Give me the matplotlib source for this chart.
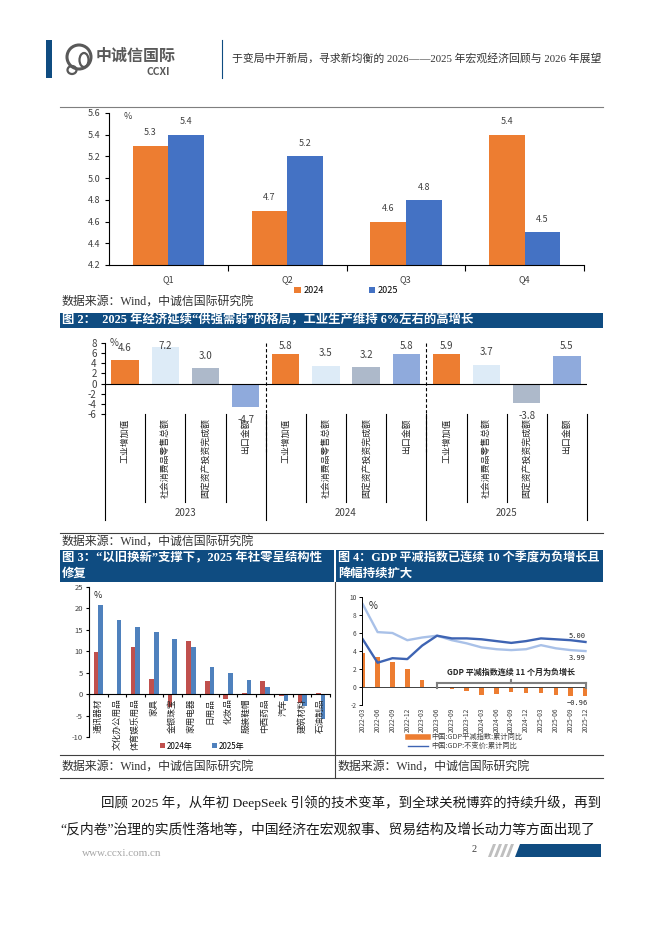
import matplotlib
matplotlib.use('Agg')
import matplotlib.pyplot as plt
from matplotlib.patches import Rectangle, Polygon, Ellipse
from matplotlib.lines import Line2D
import numpy as np

plt.rcParams['font.family'] = ['Noto Sans CJK SC', 'DejaVu Sans']
plt.rcParams['axes.unicode_minus'] = False

SANS = ['Noto Sans CJK SC', 'DejaVu Sans']
SERIF = ['Liberation Serif', 'Noto Sans CJK SC']

# ---------------- data ----------------
# Chart 1: quarterly GDP growth
quarters = ['Q1', 'Q2', 'Q3', 'Q4']
gdp_2024 = [5.3, 4.7, 4.6, 5.4]
gdp_2025 = [5.4, 5.2, 4.8, 4.5]
c1_yticks = [4.2, 4.4, 4.6, 4.8, 5.0, 5.2, 5.4, 5.6]

# Chart 2: supply strong / demand weak
c2_years = ['2023', '2024', '2025']
c2_items = ['工业增加值', '社会消费品零售总额', '固定资产投资完成额', '出口金额']
c2_2023 = [4.6, 7.2, 3.0, -4.7]
c2_2024 = [5.8, 3.5, 3.2, 5.8]
c2_2025 = [5.9, 3.7, -3.8, 5.5]
c2_yticks = [-6, -4, -2, 0, 2, 4, 6, 8]

# Chart 3: retail sales by category
c3_cats = ['通讯器材', '文化办公用品', '体育娱乐用品', '家具', '金银珠宝', '家用电器',
           '日用品', '化妆品', '服装鞋帽', '中西药品', '汽车', '建筑材料', '石油制品']
c3_2024 = [9.9, -0.3, 11.1, 3.6, -3.1, 12.3, 3.0, -1.1, 0.3, 3.1, -0.5, -2.0, 0.2]
c3_2025 = [20.8, 17.2, 15.7, 14.6, 12.8, 11.0, 6.3, 5.0, 3.2, 1.7, -1.5, -2.7, -5.7]
c3_yticks = [-10, -5, 0, 5, 10, 15, 20, 25]

# Chart 4: GDP deflator
c4_quarters = ['2022-03', '2022-06', '2022-09', '2022-12', '2023-03', '2023-06', '2023-09', '2023-12',
               '2024-03', '2024-06', '2024-09', '2024-12', '2025-03', '2025-06', '2025-09', '2025-12']
c4_deflator = [3.75, 3.35, 2.75, 2.0, 0.8, -0.05, -0.2, -0.45, -0.9, -0.75, -0.55, -0.7, -0.65, -0.9, -1.0, -0.96]
c4_real = [5.3, 2.7, 3.2, 3.1, 4.6, 5.7, 5.4, 5.4, 5.3, 5.1, 4.9, 5.1, 5.4, 5.3, 5.2, 5.00]
c4_nominal = [9.2, 6.1, 6.0, 5.2, 5.5, 5.7, 5.2, 4.85, 4.4, 4.2, 4.1, 4.2, 4.65, 4.3, 4.1, 3.99]
c4_yticks = [-2, 0, 2, 4, 6, 8, 10]

# ---------------- colours ----------------
NAVY = '#0F4C81'
ORANGE = '#ED7D31'
BLUE1 = '#4472C4'
C2_COLORS = [ORANGE, '#DDEBF7', '#ADB9CA', '#8FAADC']
RED3 = '#C0504D'
BLUE3 = '#4F81BD'
DARK4 = '#3E64B3'
LIGHT4 = '#A9C1E8'

W, H = 662, 936
fig = plt.figure(figsize=(6.62, 9.36), dpi=100)


def fx(x):
    return x / W


def fy(y):
    return 1 - y / H


def add_ax(l, t, r, b):
    return fig.add_axes([fx(l), fy(b), (r - l) / W, (b - t) / H])


def rect(x0, y0, x1, y1, color):
    fig.patches.append(Rectangle((fx(x0), fy(y1)), (x1 - x0) / W, (y1 - y0) / H,
                                 transform=fig.transFigure, facecolor=color, edgecolor='none'))


def hline(y, x0, x1, color='black', lw=0.8):
    fig.add_artist(Line2D([fx(x0), fx(x1)], [fy(y), fy(y)], color=color, lw=lw))


def vline(x, y0, y1, color='black', lw=0.8):
    fig.add_artist(Line2D([fx(x), fx(x)], [fy(y0), fy(y1)], color=color, lw=lw))


SRC = '数据来源：Wind，中诚信国际研究院'
TITLE_FS = 8.9
SRC_FS = 8.6

# ---------------- header ----------------
rect(46, 40, 52, 78, NAVY)
axl = add_ax(60, 40, 96, 78)
axl.set_xlim(0, 36)
axl.set_ylim(38, 0)
axl.set_aspect('equal')
axl.axis('off')
axl.add_patch(Ellipse((19, 17), 24, 24, fill=False, ec='#595959', lw=2.2))
axl.add_patch(Ellipse((24, 20), 9, 14, fill=False, ec='#595959', lw=1.6))
axl.add_patch(Ellipse((12, 30), 9, 8, fill=False, ec='#595959', lw=1.6))
fig.text(fx(96), fy(56), '中诚信国际', fontsize=11.5, fontweight='bold', color='#595959',
         family=SANS, va='center', ha='left')
fig.text(fx(170), fy(72), 'CCXI', fontsize=7.5, fontweight='bold', color='#595959',
         family=SANS, va='center', ha='right')
vline(222, 40, 78, NAVY, 0.8)
fig.text(fx(232), fy(58), '于变局中开新局，寻求新均衡的 2026——2025 年宏观经济回顾与 2026 年展望',
         fontsize=7.8, color='#333333', family=SERIF, va='center', ha='left')

# ---------------- chart 1 ----------------
hline(107, 60, 603, '#7F7F7F', 0.8)
ax1 = add_ax(109, 113, 584, 265)
x1 = np.arange(len(quarters))
w1 = 0.3
b24 = ax1.bar(x1 - w1 / 2, gdp_2024, w1, color=ORANGE, label='2024')
b25 = ax1.bar(x1 + w1 / 2, gdp_2025, w1, color=BLUE1, label='2025')
ax1.set_ylim(c1_yticks[0], c1_yticks[-1])
ax1.set_xlim(-0.5, len(quarters) - 0.5)
ax1.set_yticks(c1_yticks)
ax1.set_yticklabels([f'{v:.1f}' for v in c1_yticks], fontsize=6.5, color='#404040')
ax1.set_xticks(x1)
ax1.set_xticklabels(quarters, fontsize=6.5, color='#404040')
ax1.set_xticks(np.arange(len(quarters)) + 0.5, minor=True)
ax1.tick_params(axis='x', which='major', length=0, pad=7)
ax1.tick_params(axis='x', which='minor', length=4, width=0.8)
ax1.tick_params(axis='y', length=3, width=0.8, pad=3)
for s in ['top', 'right']:
    ax1.spines[s].set_visible(False)
for s in ['left', 'bottom']:
    ax1.spines[s].set_linewidth(0.8)
ax1.bar_label(b24, labels=[f'{v:.1f}' for v in gdp_2024], padding=6, fontsize=6.5, color='#404040')
ax1.bar_label(b25, labels=[f'{v:.1f}' for v in gdp_2025], padding=6, fontsize=6.5, color='#404040')
ax1.text(0.03, 0.98, '%', transform=ax1.transAxes, fontsize=6.5, color='#404040', va='center')
ax1.legend(loc='center', bbox_to_anchor=(0.5, -0.17), ncol=2, frameon=False, fontsize=6.5,
           handlelength=0.7, handleheight=0.7, handletextpad=0.3, columnspacing=5)
fig.text(fx(62), fy(302), SRC, fontsize=SRC_FS, family=SERIF, color='#333333', va='center')

# ---------------- chart 2 ----------------
rect(60, 313, 603, 328, NAVY)
fig.text(fx(62), fy(320.5), '图 2：  2025 年经济延续“供强需弱”的格局，工业生产维持 6%左右的高增长',
         fontsize=TITLE_FS, fontweight='bold', color='white', family=SERIF, va='center')
ax2 = add_ax(105, 343, 587, 414)
c2_vals = c2_2023 + c2_2024 + c2_2025
x2 = np.arange(len(c2_vals))
ax2.bar(x2, c2_vals, 0.68, color=C2_COLORS * len(c2_years))
ax2.set_xlim(-0.5, len(c2_vals) - 0.5)
ax2.set_ylim(c2_yticks[0], c2_yticks[-1])
ax2.set_yticks(c2_yticks)
ax2.set_yticklabels([str(v) for v in c2_yticks], fontsize=7, color='#404040')
ax2.tick_params(axis='y', length=3, width=0.8, pad=3)
ax2.set_xticks([])
for s in ['top', 'right', 'bottom']:
    ax2.spines[s].set_visible(False)
ax2.spines['left'].set_linewidth(0.8)
ax2.axhline(0, color='black', lw=0.8)
ax2.text(0.01, 1.0, '%', transform=ax2.transAxes, fontsize=7, color='#404040', va='center')
yx = ax2.get_xaxis_transform()
n_items = len(c2_items)
for i, v in enumerate(c2_vals):
    if v >= 0:
        ly = min(v + 2.5, 7.5)
    else:
        ly = v - 2.5
    ax2.text(i, ly, f'{v:.1f}', ha='center', va='center', fontsize=7, color='#404040', clip_on=False)
    ax2.text(i, -0.06, c2_items[i % n_items], transform=yx, rotation=90, ha='center', va='top',
             fontsize=6.4, color='#262626')
for g in range(len(c2_years) + 1):
    xb = g * n_items - 0.5
    ax2.plot([xb, xb], [0, -1.49], transform=yx, color='black', lw=0.8, clip_on=False)
    if 0 < g < len(c2_years):
        ax2.plot([xb, xb], [1, -0.53], transform=yx, color='black', lw=0.8,
                 ls=(0, (3, 2)), clip_on=False)
for g, yr in enumerate(c2_years):
    for k in range(1, n_items):
        xb = g * n_items + k - 0.5
        ax2.plot([xb, xb], [0, -1.24], transform=yx, color='black', lw=0.8, clip_on=False)
    ax2.text(g * n_items + (n_items - 1) / 2, -1.39, yr, transform=yx, ha='center', va='center',
             fontsize=7, color='#404040')

hline(533, 60, 603, '#404040', 0.8)
fig.text(fx(62), fy(542), SRC, fontsize=SRC_FS, family=SERIF, color='#333333', va='center')

# ---------------- chart 3 & 4 title bars / frame ----------------
rect(60, 550, 334, 582, NAVY)
rect(336, 550, 603, 582, NAVY)
fig.text(fx(62), fy(558), '图 3：“以旧换新”支撑下，2025 年社零呈结构性', fontsize=TITLE_FS,
         fontweight='bold', color='white', family=SERIF, va='center')
fig.text(fx(62), fy(574), '修复', fontsize=TITLE_FS, fontweight='bold', color='white', family=SERIF,
         va='center')
fig.text(fx(338), fy(558), '图 4：GDP 平减指数已连续 10 个季度为负增长且', fontsize=TITLE_FS - 0.2,
         fontweight='bold', color='white', family=SERIF, va='center')
fig.text(fx(338), fy(574), '降幅持续扩大', fontsize=TITLE_FS, fontweight='bold', color='white',
         family=SERIF, va='center')
vline(335, 582, 778, '#404040', 0.8)
hline(755, 60, 603, '#404040', 0.8)
hline(778, 60, 603, '#404040', 0.8)
fig.text(fx(62), fy(767), SRC, fontsize=SRC_FS, family=SERIF, color='#333333', va='center')
fig.text(fx(338), fy(767), SRC, fontsize=SRC_FS, family=SERIF, color='#333333', va='center')

# ---------------- chart 3 ----------------
ax3 = add_ax(89, 587, 330, 737)
x3 = np.arange(len(c3_cats))
w3 = 0.25
ax3.bar(x3 - w3 / 2, c3_2024, w3, color=RED3, label='2024年')
ax3.bar(x3 + w3 / 2, c3_2025, w3, color=BLUE3, label='2025年')
ax3.set_xlim(-0.5, len(c3_cats) - 0.5)
ax3.set_ylim(c3_yticks[0], c3_yticks[-1])
ax3.set_yticks(c3_yticks)
ax3.set_yticklabels([str(v) for v in c3_yticks], fontsize=5.5, color='#404040')
ax3.tick_params(axis='y', length=2.5, width=0.8, pad=2)
for s in ['top', 'right']:
    ax3.spines[s].set_visible(False)
ax3.spines['bottom'].set_position(('data', 0))
ax3.spines['bottom'].set_linewidth(0.8)
ax3.spines['left'].set_linewidth(0.8)
ax3.set_xticks([])
ax3.set_xticks(np.arange(len(c3_cats) + 1) - 0.5, minor=True)
ax3.tick_params(axis='x', which='minor', length=2.5, width=0.8)
for i, c in enumerate(c3_cats):
    ax3.annotate(c, (i, 0), xytext=(0, -3), textcoords='offset points', rotation=90,
                 ha='center', va='top', fontsize=6.2, color='#262626', annotation_clip=False)
ax3.text(0.02, 0.94, '%', transform=ax3.transAxes, fontsize=6.5, color='#262626', va='center')
ax3.legend(loc='center', bbox_to_anchor=(0.47, -0.06), ncol=2, frameon=False, fontsize=5.8,
           handlelength=0.6, handleheight=0.6, handletextpad=0.2, columnspacing=2.5)

# ---------------- chart 4 ----------------
ax4 = add_ax(362, 597, 587, 705)
x4 = np.arange(len(c4_quarters))
ax4.bar(x4, c4_deflator, 0.3, color=ORANGE)
ax4.plot(x4, c4_nominal, color=LIGHT4, lw=1.7)
ax4.plot(x4, c4_real, color=DARK4, lw=1.7)
ax4.set_xlim(-0.05, len(c4_quarters) - 0.9)
ax4.set_ylim(c4_yticks[0], c4_yticks[-1])
ax4.set_yticks(c4_yticks)
ax4.set_yticklabels([str(v) for v in c4_yticks], fontsize=4.8, color='#404040')
ax4.tick_params(axis='y', length=2, width=0.7, pad=2)
ax4.set_xticks(x4)
ax4.set_xticklabels(c4_quarters, rotation=90, fontsize=4.8, color='#404040')
ax4.tick_params(axis='x', length=0, pad=2)
for s in ['top', 'right', 'bottom']:
    ax4.spines[s].set_visible(False)
ax4.spines['left'].set_linewidth(0.7)
ax4.axhline(0, color='#404040', lw=0.7)
ax4.text(0.03, 0.92, '%', transform=ax4.transAxes, fontsize=7, color='#262626', va='center')
ax4.annotate(f'{c4_real[-1]:.2f}', (x4[-1], c4_real[-1]), xytext=(-6, 4), textcoords='offset points',
             ha='center', va='center', fontsize=5, color='#262626', family=['DejaVu Sans Mono'])
ax4.annotate(f'{c4_nominal[-1]:.2f}', (x4[-1], c4_nominal[-1]), xytext=(-6, -5), textcoords='offset points',
             ha='center', va='center', fontsize=5, color='#262626', family=['DejaVu Sans Mono'])
ax4.annotate(f'{c4_deflator[-1]:.2f}'.replace('-', '−'), (x4[-1], c4_deflator[-1]), xytext=(-6, -5),
             textcoords='offset points', ha='center', va='center', fontsize=5, color='#262626',
             family=['DejaVu Sans Mono'], annotation_clip=False)
# bracket for negative deflator run
neg_start = 5
neg_end = len(c4_quarters) - 1
mid = (neg_start + neg_end) / 2
by = 0.45
ax4.plot([neg_start, neg_end], [by, by], color='#7F7F7F', lw=1.5, clip_on=False)
ax4.plot([neg_start, neg_start], [by, -0.1], color='#7F7F7F', lw=1.5, clip_on=False)
ax4.plot([neg_end, neg_end], [by, -0.1], color='#7F7F7F', lw=1.5, clip_on=False)
ax4.plot([mid, mid], [by, by + 0.35], color='#7F7F7F', lw=1.5, clip_on=False)
ax4.text(mid, 1.6, 'GDP 平减指数连续 11 个月为负增长', ha='center', va='center', fontsize=5.8,
         fontweight='bold', color='#262626')
# legend (manual)
fig.add_artist(Line2D([fx(408), fx(428)], [fy(737), fy(737)], color=ORANGE, lw=4))
fig.text(fx(431), fy(737), '中国:GDP平减指数:累计同比', fontsize=5.2, color='#404040', va='center')
fig.add_artist(Line2D([fx(408), fx(428)], [fy(746), fy(746)], color=DARK4, lw=1))
fig.text(fx(431), fy(746), '中国:GDP:不变价:累计同比', fontsize=5.2, color='#404040', va='center')

# ---------------- body text ----------------
fig.text(fx(101), fy(803), '回顾 2025 年，从年初 DeepSeek 引领的技术变革，到全球关税博弈的持续升级，再到',
         fontsize=9.7, family=SERIF, color='#1A1A1A', va='center')
fig.text(fx(60), fy(829), '“反内卷”治理的实质性落地等，中国经济在宏观叙事、贸易结构及增长动力等方面出现了',
         fontsize=9.95, family=SERIF, color='#1A1A1A', va='center')

# ---------------- footer ----------------
fig.text(fx(82), fy(853), 'www.ccxi.com.cn', fontsize=8, family=SERIF, color='#A6A6A6', va='center')
fig.text(fx(474), fy(850), '2', fontsize=7.5, family=SERIF, color='#404040', va='center', ha='center')
for k in range(4):
    x0 = 488 + k * 6
    fig.patches.append(Polygon([(fx(x0 + 5), fy(844)), (fx(x0 + 8), fy(844)),
                                (fx(x0 + 3), fy(857)), (fx(x0), fy(857))],
                               closed=True, transform=fig.transFigure, facecolor='#BFBFBF',
                               edgecolor='none'))
fig.patches.append(Polygon([(fx(520), fy(844)), (fx(601), fy(844)), (fx(601), fy(857)),
                            (fx(515), fy(857))], closed=True, transform=fig.transFigure,
                           facecolor=NAVY, edgecolor='none'))

fig.savefig('out.png', dpi=100)
